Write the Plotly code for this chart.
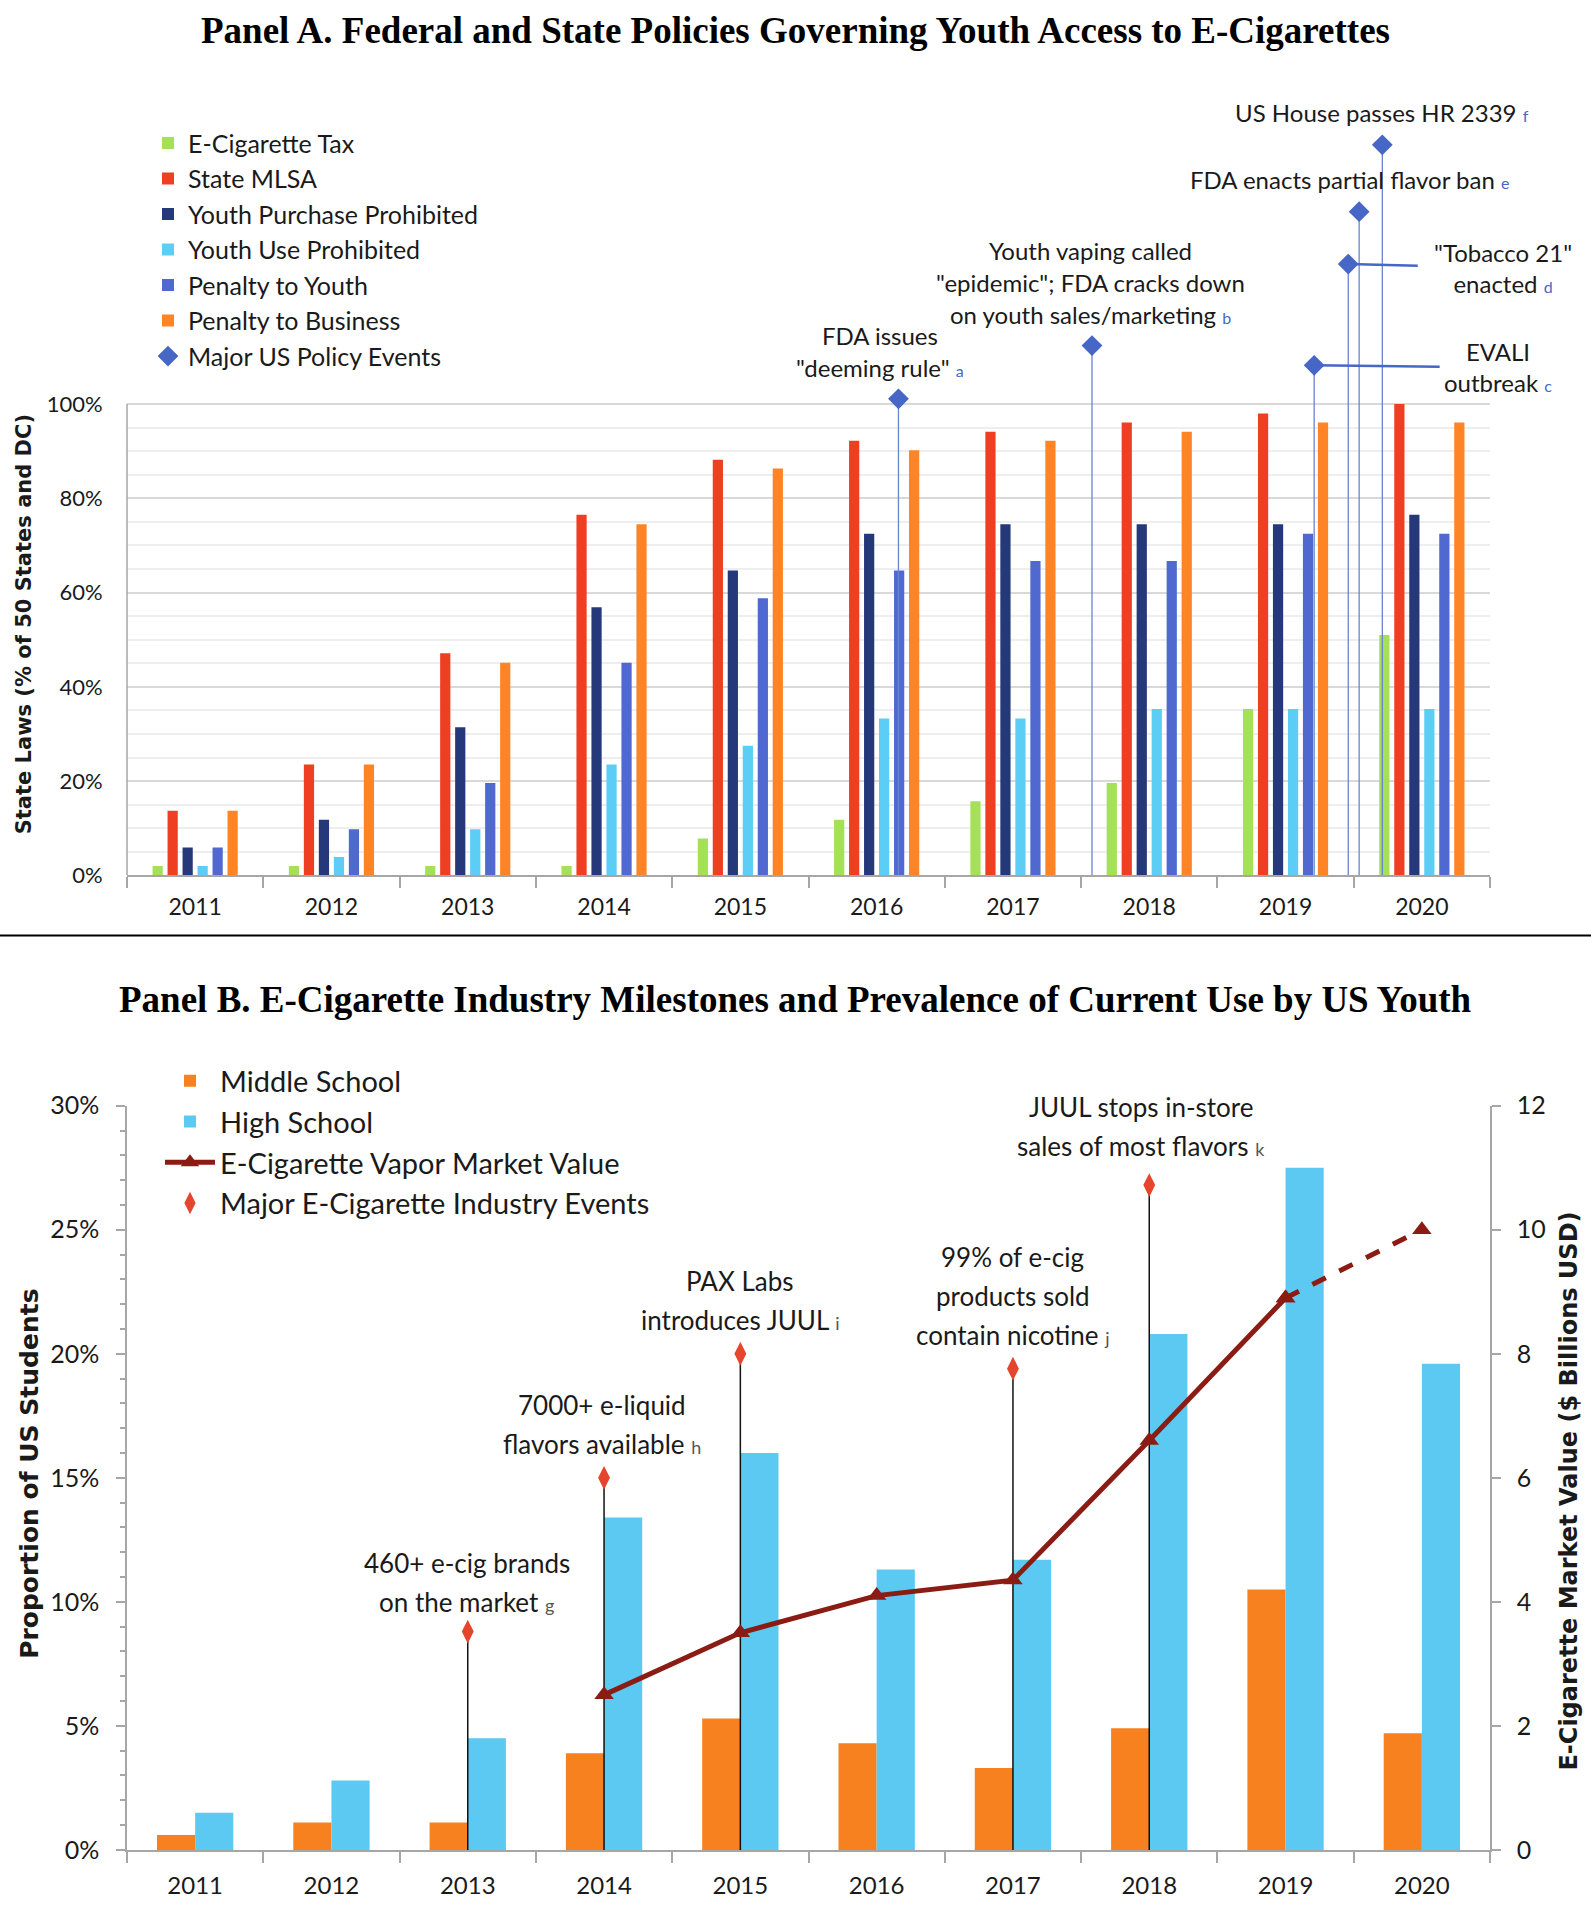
import plotly.graph_objects as go

# ---------------- DATA ----------------
years = [2011, 2012, 2013, 2014, 2015, 2016, 2017, 2018, 2019, 2020]
year_labels = [str(y) for y in years]

# Panel A: % of 50 states and DC with each law
ecig_tax = [2.0, 2.0, 2.0, 2.0, 7.8, 11.8, 15.7, 19.6, 35.3, 51.0]
state_mlsa = [13.7, 23.5, 47.1, 76.5, 88.2, 92.2, 94.1, 96.1, 98.0, 100.0]
youth_purchase = [5.9, 11.8, 31.4, 56.9, 64.7, 72.5, 74.5, 74.5, 74.5, 76.5]
youth_use = [2.0, 3.9, 9.8, 23.5, 27.5, 33.3, 33.3, 35.3, 35.3, 35.3]
penalty_youth = [5.9, 9.8, 19.6, 45.1, 58.8, 64.7, 66.7, 66.7, 72.5, 72.5]
penalty_business = [13.7, 23.5, 45.1, 74.5, 86.3, 90.2, 92.2, 94.1, 96.1, 96.1]

policy_event_x = [2016.16, 2017.58, 2019.21, 2019.46, 2019.54, 2019.71]
policy_event_y = [101.1, 112.4, 108.2, 129.7, 140.8, 155.0]
policy_event_letters = ["a", "b", "c", "d", "e", "f"]
policy_event_lines = [
    ["FDA issues", "\"deeming rule\""],
    ["Youth vaping called", "\"epidemic\"; FDA cracks down", "on youth sales/marketing"],
    ["EVALI", "outbreak"],
    ["\"Tobacco 21\"", "enacted"],
    ["FDA enacts partial flavor ban"],
    ["US House passes HR 2339"],
]

# Panel B: prevalence of current use (%), market value ($B)
middle_school = [0.6, 1.1, 1.1, 3.9, 5.3, 4.3, 3.3, 4.9, 10.5, 4.7]
high_school = [1.5, 2.8, 4.5, 13.4, 16.0, 11.3, 11.7, 20.8, 27.5, 19.6]
market_years = [2014, 2015, 2016, 2017, 2018, 2019, 2020]
market_value = [2.5, 3.5, 4.1, 4.35, 6.6, 8.9, 10.0]

industry_event_x = [2013, 2014, 2015, 2017, 2018]
industry_event_y = [8.8, 15.0, 20.0, 19.4, 26.8]
industry_event_letters = ["g", "h", "i", "j", "k"]
industry_event_lines = [
    ["460+ e-cig brands", "on the market"],
    ["7000+ e-liquid", "flavors available"],
    ["PAX Labs", "introduces JUUL"],
    ["99% of e-cig", "products sold", "contain nicotine"],
    ["JUUL stops in-store", "sales of most flavors"],
]

# ---------------- LAYOUT CONSTANTS ----------------
W, H = 1591, 1920
XL, XR = 127 / W, 1490 / W
A_DOM = [1 - 873 / H, 1 - 59 / H]
B_DOM = [1 - 1863 / H, 1 - 1107 / H]
FONT = "Lato"
TXT = "#1a1a1a"
BLUE_EV = "#4767C7"
RED_EV = "#E5452C"
AXIS_GREY = "#A6A6A6"

fig = go.Figure()

# ---------------- PANEL A ----------------
namesA = ["E-Cigarette Tax", "State MLSA", "Youth Purchase Prohibited",
          "Youth Use Prohibited", "Penalty to Youth", "Penalty to Business"]
seriesA = [ecig_tax, state_mlsa, youth_purchase, youth_use, penalty_youth, penalty_business]
colorsA = ["#A4E157", "#EF3F22", "#25387A", "#5CCDF4", "#4F69D0", "#FF8426"]
slot, bw = 0.11, 0.075
for i, (n, v, c) in enumerate(zip(namesA, seriesA, colorsA)):
    fig.add_trace(go.Bar(
        x=years, y=v, name=n, marker=dict(color=c, line=dict(width=0)),
        width=bw, offset=-3 * slot + i * slot + (slot - bw) / 2,
        xaxis="x", yaxis="y", legend="legend", hoverinfo="x+y"))

lx, ly = [], []
for ex, ey in zip(policy_event_x, policy_event_y):
    lx += [ex, ex, None]
    ly += [0, ey, None]
fig.add_trace(go.Scatter(x=lx, y=ly, mode="lines", line=dict(color="#6B84D0", width=1.3),
                         showlegend=False, hoverinfo="skip", xaxis="x", yaxis="y"))
fig.add_trace(go.Scatter(x=policy_event_x, y=policy_event_y, mode="markers",
                         marker=dict(symbol="diamond", size=16, color=BLUE_EV),
                         name="Major US Policy Events", xaxis="x", yaxis="y", legend="legend"))

# ---------------- PANEL B ----------------
fig.add_trace(go.Bar(x=years, y=middle_school, name="Middle School",
                     marker=dict(color="#F7811F", line=dict(width=0)),
                     width=0.28, offset=-0.28, xaxis="x2", yaxis="y2", legend="legend2"))
fig.add_trace(go.Bar(x=years, y=high_school, name="High School",
                     marker=dict(color="#5BC9F2", line=dict(width=0)),
                     width=0.28, offset=0.0, xaxis="x2", yaxis="y2", legend="legend2"))

bx, by = [], []
for ex, ey in zip(industry_event_x, industry_event_y):
    bx += [ex, ex, None]
    by += [0, ey, None]
fig.add_trace(go.Scatter(x=bx, y=by, mode="lines", line=dict(color="#111111", width=1.5),
                         showlegend=False, hoverinfo="skip", xaxis="x2", yaxis="y2"))

fig.add_trace(go.Scatter(x=market_years[:-1], y=market_value[:-1], mode="lines+markers",
                         line=dict(color="#8B1C14", width=5),
                         marker=dict(symbol="triangle-up", size=17, color="#8B1C14"),
                         name="E-Cigarette Vapor Market Value",
                         xaxis="x2", yaxis="y3", legend="legend2"))
fig.add_trace(go.Scatter(x=market_years[-2:], y=market_value[-2:], mode="lines+markers",
                         line=dict(color="#8B1C14", width=5, dash="dash"),
                         marker=dict(symbol="triangle-up", size=17, color="#8B1C14"),
                         showlegend=False, xaxis="x2", yaxis="y3"))

fig.add_trace(go.Scatter(x=industry_event_x, y=industry_event_y, mode="markers",
                         marker=dict(symbol="diamond-tall", size=17, color=RED_EV),
                         name="Major E-Cigarette Industry Events",
                         xaxis="x2", yaxis="y2", legend="legend2"))

# ---------------- ANNOTATIONS ----------------
ann = []
ann.append(dict(text="<b>Panel A. Federal and State Policies Governing Youth Access to E-Cigarettes</b>",
                x=0.5, y=1 - 15 / H, xref="paper", yref="paper", showarrow=False,
                xanchor="center", yanchor="middle",
                font=dict(family="Liberation Serif", size=37, color="#000")))
ann.append(dict(text="<b>Panel B. E-Cigarette Industry Milestones and Prevalence of Current Use by US Youth</b>",
                x=0.5, y=1 - 999 / H, xref="paper", yref="paper", showarrow=False,
                xanchor="center", yanchor="middle",
                font=dict(family="Liberation Serif", size=37, color="#000")))
ann.append(dict(text="<b>State Laws (% of 50 States and DC)</b>", textangle=-90,
                x=24 / W, y=1 - 618 / H, xref="paper", yref="paper", showarrow=False,
                xanchor="center", yanchor="middle",
                font=dict(family="DejaVu Sans", size=21, color=TXT)))
ann.append(dict(text="<b>Proportion of US Students</b>", textangle=-90,
                x=30 / W, y=1 - 1481 / H, xref="paper", yref="paper", showarrow=False,
                xanchor="center", yanchor="middle",
                font=dict(family="DejaVu Sans", size=25, color=TXT)))
ann.append(dict(text="<b>E-Cigarette Market Value ($ Billions USD)</b>", textangle=-90,
                x=1569 / W, y=1 - 1499 / H, xref="paper", yref="paper", showarrow=False,
                xanchor="center", yanchor="middle",
                font=dict(family="DejaVu Sans", size=24, color=TXT)))

# Panel A event labels
lineA = 32
placeA = {0: (-18, 19), 1: (-2, 19), 4: (-10, 20), 5: (0, 20)}
for k, (ex, ey, let, lines) in enumerate(zip(policy_event_x, policy_event_y,
                                             policy_event_letters, policy_event_lines)):
    if k in placeA:
        xs, ys = placeA[k]
        n = len(lines)
        for j, t in enumerate(lines):
            if j == n - 1:
                t = t + " <span style='color:%s;font-size:16px'>%s</span>" % (BLUE_EV, let)
            ann.append(dict(text=t, x=ex, y=ey, xref="x", yref="y", showarrow=False,
                            xanchor="center", yanchor="middle",
                            xshift=xs, yshift=ys + 12 + (n - 1 - j) * lineA,
                            font=dict(family=FONT, size=24, color=TXT)))
# connector-labelled events (c, d)
for k, (axp, ayp, pad) in {2: (184, 2, 4), 3: (155, 4, 16)}.items():
    lines = policy_event_lines[k]
    t = lines[0] + "<br>" + lines[1] + " <span style='color:%s;font-size:16px'>%s</span>" % (
        BLUE_EV, policy_event_letters[k])
    ann.append(dict(text=t, x=policy_event_x[k], y=policy_event_y[k], xref="x", yref="y",
                    showarrow=True, arrowhead=0, arrowwidth=2.5, arrowcolor=BLUE_EV,
                    ax=axp, ay=ayp, axref="pixel", ayref="pixel", standoff=0,
                    borderpad=pad, align="center",
                    font=dict(family=FONT, size=24, color=TXT)))

# Panel B event labels
lineB = 39
placeB = {0: (-1, 16), 1: (-2, 20), 2: (0, 20), 3: (0, 20), 4: (-8, 25)}
for k, (ex, ey, let, lines) in enumerate(zip(industry_event_x, industry_event_y,
                                             industry_event_letters, industry_event_lines)):
    xs, ys = placeB[k]
    n = len(lines)
    for j, t in enumerate(lines):
        if j == n - 1:
            t = t + " <span style='color:#555555;font-size:18px'>%s</span>" % let
        ann.append(dict(text=t, x=ex, y=ey, xref="x2", yref="y2", showarrow=False,
                        xanchor="center", yanchor="middle",
                        xshift=xs, yshift=ys + 14 + (n - 1 - j) * lineB,
                        font=dict(family=FONT, size=26, color=TXT)))

# ---------------- SHAPES ----------------
shapes = [
    dict(type="line", xref="paper", yref="paper", x0=0, x1=1,
         y0=1 - 934 / H, y1=1 - 934 / H, line=dict(color="#000", width=2)),
    dict(type="line", xref="paper", yref="y", x0=XL, x1=XL, y0=0, y1=100,
         line=dict(color=AXIS_GREY, width=1.5)),
]

boundaries = [y - 0.5 for y in years] + [years[-1] + 0.5]


def xcommon(standoff):
    return dict(range=[years[0] - 0.5, years[-1] + 0.5], domain=[XL, XR],
                tickvals=years, ticktext=year_labels, ticks="", showgrid=False,
                zeroline=False, showline=True, linecolor=AXIS_GREY, linewidth=2,
                ticklabelstandoff=standoff,
                minor=dict(tickvals=boundaries, ticks="outside", ticklen=11,
                           tickcolor=AXIS_GREY, tickwidth=1.5, showgrid=False))


fig.update_layout(
    width=W, height=H, margin=dict(l=0, r=0, t=0, b=0),
    paper_bgcolor="white", plot_bgcolor="white",
    font=dict(family=FONT, color=TXT),
    barmode="overlay",
    showlegend=True,
    xaxis=dict(anchor="y", tickfont=dict(family=FONT, size=23, color=TXT), **xcommon(10)),
    yaxis=dict(domain=A_DOM, anchor="x", range=[0, 170],
               tickvals=[0, 20, 40, 60, 80, 100],
               ticktext=["0%", "20%", "40%", "60%", "80%", "100%"],
               ticks="outside", ticklen=19, tickcolor="rgba(0,0,0,0)",
               showgrid=True, gridcolor="#D9D9D9", gridwidth=2, zeroline=False,
               tickfont=dict(family=FONT, size=22, color=TXT),
               minor=dict(tickvals=[5, 10, 15, 25, 30, 35, 45, 50, 55, 65, 70, 75, 85, 90, 95],
                          showgrid=True, gridcolor="#EEEEEE", gridwidth=1.5, ticks="")),
    xaxis2=dict(anchor="y2", tickfont=dict(family=FONT, size=24, color=TXT), **xcommon(13)),
    yaxis2=dict(domain=B_DOM, anchor="x2", range=[0, 30],
                tickvals=[0, 5, 10, 15, 20, 25, 30],
                ticktext=["0%", "5%", "10%", "15%", "20%", "25%", "30%"],
                ticks="outside", ticklen=9, tickcolor=AXIS_GREY, tickwidth=1.5,
                ticklabelstandoff=12,
                showline=True, linecolor=AXIS_GREY, linewidth=1.5,
                showgrid=False, zeroline=False,
                tickfont=dict(family=FONT, size=25, color=TXT),
                minor=dict(dtick=1, ticks="outside", ticklen=5, tickcolor=AXIS_GREY,
                           showgrid=False)),
    yaxis3=dict(overlaying="y2", side="right", anchor="x2", range=[0, 12],
                tickvals=[0, 2, 4, 6, 8, 10, 12],
                ticks="outside", ticklen=9, tickcolor=AXIS_GREY, tickwidth=1.5,
                ticklabelstandoff=11,
                showline=True, linecolor=AXIS_GREY, linewidth=1.5,
                showgrid=False, zeroline=False,
                tickfont=dict(family=FONT, size=25, color=TXT)),
    legend=dict(x=148 / W, y=1 - 106 / H, xanchor="left", yanchor="top",
                bgcolor="rgba(0,0,0,0)", font=dict(family=FONT, size=25, color=TXT),
                tracegroupgap=0, itemwidth=30),
    legend2=dict(x=160 / W, y=1 - 1056 / H, xanchor="left", yanchor="top",
                 bgcolor="rgba(0,0,0,0)", font=dict(family=FONT, size=29, color=TXT),
                 tracegroupgap=0, itemwidth=50),
    annotations=ann,
    shapes=shapes,
)

fig.write_html("out.html", config={"displayModeBar": False},
               post_script="document.body.style.margin='0px';")
